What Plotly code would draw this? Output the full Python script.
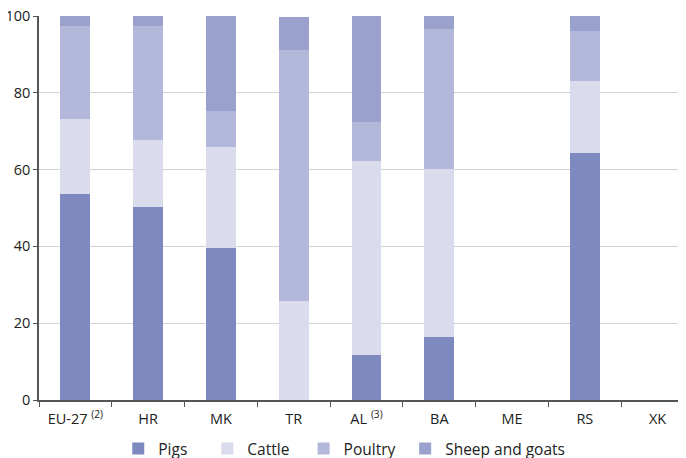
import plotly.graph_objects as go

categories = ["EU-27 <sup>(2)</sup>", "HR", "MK", "TR", "AL <sup>(3)</sup>", "BA", "ME", "RS", "XK"]
pigs = [53.6, 50.3, 39.6, 0.0, 11.7, 16.4, None, 64.3, None]
cattle = [19.6, 17.4, 26.3, 25.9, 50.5, 43.8, None, 18.8, None]
poultry = [24.2, 29.7, 9.4, 65.2, 10.2, 36.4, None, 13.0, None]
sheep_goats = [2.6, 2.6, 24.7, 8.6, 27.6, 3.4, None, 3.9, None]

series = [
    ("Pigs", pigs, "#7E89BF"),
    ("Cattle", cattle, "#DADCEE"),
    ("Poultry", poultry, "#B3B7DA"),
    ("Sheep and goats", sheep_goats, "#99A1CC"),
]
legend_x = [0.121, 0.257, 0.404, 0.559]

fig = go.Figure()
legend_ids = ["legend", "legend2", "legend3", "legend4"]
for (name, vals, color), lid in zip(series, legend_ids):
    fig.add_trace(go.Bar(
        x=categories, y=vals, name=name,
        marker=dict(color=color, line=dict(width=0)),
        width=0.41, legend=lid,
    ))

font_family = "Open Sans, Noto Sans, sans-serif"
legend_common = dict(
    orientation="h", xanchor="left", y=-0.128, yanchor="middle",
    font=dict(size=15.5, color="#222222"), itemwidth=30,
    bgcolor="rgba(0,0,0,0)",
)
layout_legends = {}
for lid, lx in zip(legend_ids, legend_x):
    layout_legends[lid] = dict(x=lx, **legend_common)

fig.update_layout(
    barmode="stack",
    width=686, height=458,
    margin=dict(l=31, r=0, t=8, b=66),
    plot_bgcolor="white", paper_bgcolor="white",
    font=dict(family=font_family, size=14, color="#222222"),
    showlegend=True,
    xaxis=dict(
        range=[-0.5, 8.5], automargin=False,
        showline=True, linecolor="#555555", linewidth=1.5,
        ticks="outside", tickson="boundaries", ticklen=5, tickcolor="#555555",
        showgrid=False, tickfont=dict(size=14.5), ticklabeloverflow="allow",
        ticklabelstandoff=5,
    ),
    yaxis=dict(
        range=[0, 100], tickvals=[0, 20, 40, 60, 80, 100], automargin=False,
        showline=True, linecolor="#555555", linewidth=1.5,
        ticks="outside", ticklen=4, tickcolor="#555555",
        showgrid=True, gridcolor="#D3D3D3", gridwidth=1,
        zeroline=False, tickfont=dict(size=14.5), ticklabeloverflow="allow",
    ),
    **layout_legends,
)

fig.write_html("out.html")
